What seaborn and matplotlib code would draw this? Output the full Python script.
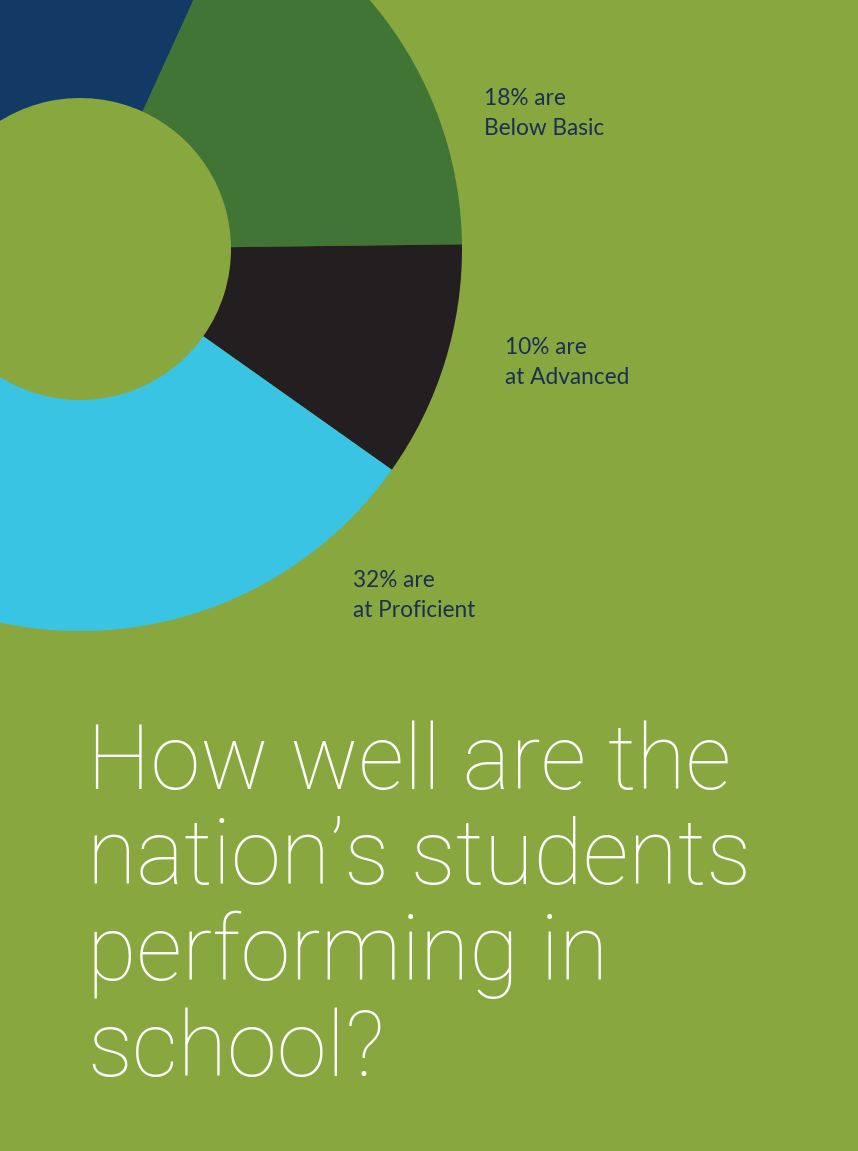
import matplotlib
matplotlib.use("Agg")
import matplotlib.pyplot as plt
import seaborn as sns

# ---- data ----
levels = ["Below Basic", "at Advanced", "at Proficient", "Basic"]
shares = [18, 10, 32, 40]
show_label = [True, True, True, False]
colors = ["#417535", "#231f20", "#3ac4e3", "#123a64"]
title_lines = ["How well are the", "nation\u2019s students", "performing in", "school?"]

BG = "#89a73f"
TXT = "#1b2f55"

sns.set_theme(style="white")
plt.rcParams["font.family"] = ["Lato", "DejaVu Sans"]

W, H = 858, 1151
fig = plt.figure(figsize=(W / 100, H / 100), dpi=100, facecolor=BG)
ax = fig.add_axes([0, 0, 1, 1])
ax.set_facecolor(BG)

cx, cy = 80, H - 249
R, r = 382, 151
ax.pie(shares, colors=colors, startangle=65.5, counterclock=False,
       center=(cx, cy), radius=R,
       wedgeprops=dict(width=R - r, edgecolor="none", linewidth=0))
ax.set_xlim(0, W)
ax.set_ylim(0, H)
ax.set_aspect("auto")
ax.axis("off")

label_pos = [(484, 88), (505, 337), (353, 570)]
k = 0
for lvl, s, show in zip(levels, shares, show_label):
    if not show:
        continue
    x, y = label_pos[k]
    k += 1
    ax.text(x, H - y, f"{s}% are\n{lvl}", ha="left", va="top", color=TXT,
            fontsize=16.3, linespacing=1.5)

ax.text(87, H - 721, "\n".join(title_lines), ha="left", va="top", color="white",
        fontsize=65, fontweight="light", linespacing=1.115,
        family=["Roboto", "DejaVu Sans"])

fig.savefig("out.png", dpi=100, facecolor=BG)
